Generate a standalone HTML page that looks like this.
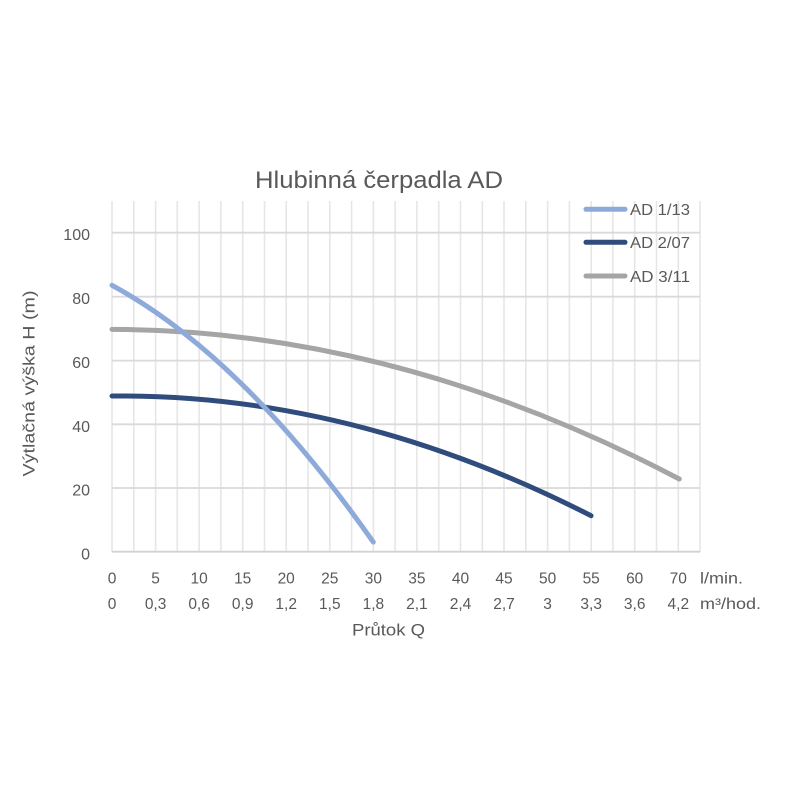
<!DOCTYPE html>
<html><head><meta charset="utf-8"><style>
html,body{margin:0;padding:0;background:#fff;}
svg{display:block;}
text{font-family:"Liberation Sans",sans-serif;fill:#595959;}
</style></head><body>
<svg width="800" height="800" viewBox="0 0 800 800" xmlns="http://www.w3.org/2000/svg">
<rect width="800" height="800" fill="#fff"/>
<g stroke="#e6e6e6" stroke-width="1.6">
<line x1="112" y1="201" x2="112" y2="552"/><line x1="133.8" y1="201" x2="133.8" y2="552"/><line x1="155.6" y1="201" x2="155.6" y2="552"/><line x1="177.3" y1="201" x2="177.3" y2="552"/><line x1="199.1" y1="201" x2="199.1" y2="552"/><line x1="220.9" y1="201" x2="220.9" y2="552"/><line x1="242.7" y1="201" x2="242.7" y2="552"/><line x1="264.5" y1="201" x2="264.5" y2="552"/><line x1="286.2" y1="201" x2="286.2" y2="552"/><line x1="308" y1="201" x2="308" y2="552"/><line x1="329.8" y1="201" x2="329.8" y2="552"/><line x1="351.6" y1="201" x2="351.6" y2="552"/><line x1="373.4" y1="201" x2="373.4" y2="552"/><line x1="395.1" y1="201" x2="395.1" y2="552"/><line x1="416.9" y1="201" x2="416.9" y2="552"/><line x1="438.7" y1="201" x2="438.7" y2="552"/><line x1="460.5" y1="201" x2="460.5" y2="552"/><line x1="482.3" y1="201" x2="482.3" y2="552"/><line x1="504" y1="201" x2="504" y2="552"/><line x1="525.8" y1="201" x2="525.8" y2="552"/><line x1="547.6" y1="201" x2="547.6" y2="552"/><line x1="569.4" y1="201" x2="569.4" y2="552"/><line x1="591.2" y1="201" x2="591.2" y2="552"/><line x1="612.9" y1="201" x2="612.9" y2="552"/><line x1="634.7" y1="201" x2="634.7" y2="552"/><line x1="656.5" y1="201" x2="656.5" y2="552"/><line x1="678.3" y1="201" x2="678.3" y2="552"/><line x1="700" y1="201" x2="700" y2="552"/>
</g>
<g stroke="#dadada" stroke-width="1.8">
<line x1="112" y1="232.7" x2="700" y2="232.7"/>
<line x1="112" y1="296.7" x2="700" y2="296.7"/>
<line x1="112" y1="360.6" x2="700" y2="360.6"/>
<line x1="112" y1="424.3" x2="700" y2="424.3"/>
<line x1="112" y1="488" x2="700" y2="488"/>
<line x1="112" y1="551.7" x2="700" y2="551.7" stroke="#d2d2d2"/>
</g>
<text x="255" y="188" font-size="24" textLength="248" lengthAdjust="spacingAndGlyphs">Hlubinná čerpadla AD</text>
<g font-size="16" text-anchor="end">
<text x="90" y="240">100</text>
<text x="90" y="304">80</text>
<text x="90" y="368">60</text>
<text x="90" y="432">40</text>
<text x="90" y="495.5">20</text>
<text x="90" y="559.5">0</text>
</g>
<text transform="translate(34.5,383.5) rotate(-90)" text-anchor="middle" font-size="17" textLength="186" lengthAdjust="spacingAndGlyphs">Výtlačná výška H (m)</text>
<g font-size="15.5" text-anchor="middle">
<text x="112" y="583.5">0</text><text x="155.6" y="583.5">5</text><text x="199.1" y="583.5">10</text><text x="242.7" y="583.5">15</text><text x="286.2" y="583.5">20</text><text x="329.8" y="583.5">25</text><text x="373.4" y="583.5">30</text><text x="416.9" y="583.5">35</text><text x="460.5" y="583.5">40</text><text x="504" y="583.5">45</text><text x="547.6" y="583.5">50</text><text x="591.2" y="583.5">55</text><text x="634.7" y="583.5">60</text><text x="678.3" y="583.5">70</text>
<text x="112" y="609">0</text><text x="155.6" y="609">0,3</text><text x="199.1" y="609">0,6</text><text x="242.7" y="609">0,9</text><text x="286.2" y="609">1,2</text><text x="329.8" y="609">1,5</text><text x="373.4" y="609">1,8</text><text x="416.9" y="609">2,1</text><text x="460.5" y="609">2,4</text><text x="504" y="609">2,7</text><text x="547.6" y="609">3</text><text x="591.2" y="609">3,3</text><text x="634.7" y="609">3,6</text><text x="678.3" y="609">4,2</text>
</g>
<text x="700" y="583.5" font-size="15.5" textLength="43" lengthAdjust="spacingAndGlyphs">l/min.</text>
<text x="700" y="609" font-size="15.5" textLength="61" lengthAdjust="spacingAndGlyphs">m³/hod.</text>
<text x="352" y="635.5" font-size="17" textLength="73" lengthAdjust="spacingAndGlyphs">Průtok Q</text>
<g fill="none" stroke-width="5" stroke-linecap="round">
<path d="M112,329.4 Q395.5,329.8 679.3,479" stroke="#a5a5a5"/>
<path d="M112,396 Q351.5,393.5 591.05,515.7" stroke="#2f4c7d"/>
<path d="M112,285.3 Q242.65,356.2 373.3,542.1" stroke="#8eaadb"/>
</g>
<g stroke-width="5" stroke-linecap="round">
<line x1="586" y1="209.3" x2="625" y2="209.3" stroke="#8eaadb"/>
<line x1="586" y1="242.3" x2="625" y2="242.3" stroke="#2f4c7d"/>
<line x1="586" y1="276" x2="625" y2="276" stroke="#a5a5a5"/>
</g>
<g font-size="16">
<text x="630" y="215" textLength="60" lengthAdjust="spacingAndGlyphs">AD 1/13</text>
<text x="630" y="248" textLength="60" lengthAdjust="spacingAndGlyphs">AD 2/07</text>
<text x="630" y="282" textLength="60" lengthAdjust="spacingAndGlyphs">AD 3/11</text>
</g>
</svg>
</body></html>
